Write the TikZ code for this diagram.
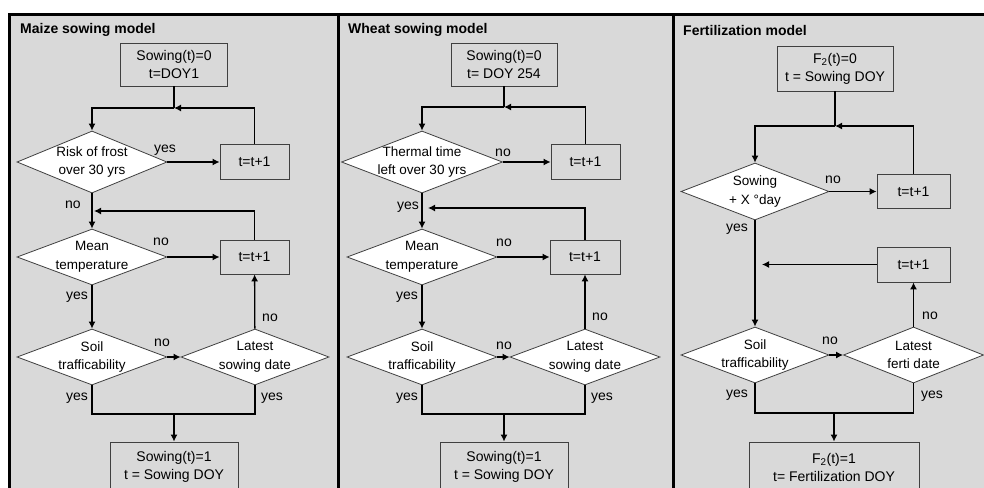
\documentclass[tikz,border=0pt]{standalone}
\usepackage{fontspec}
\setmainfont{Liberation Sans}
\usetikzlibrary{arrows.meta,shapes.geometric}
\definecolor{panelgray}{RGB}{217,217,217}
\tikzset{ %all sizes in pixels of the original
  >={Latex[length=7pt,width=7pt]},
  {frame line/.style} ={line width=3pt,black},
  {flow/.style} ={line width=1.3pt,black},
  {proc/.style} ={rectangle,draw=black!75,line width=0.8pt,inner sep=0,
                  align=center,font=\fontsize{14}{18}\selectfont},
  {decision/.style} ={diamond,aspect=2.6,draw=black!75,fill=white,
                  line width=0.8pt,inner sep=-14pt,align=center,
                  font=\fontsize{13.5}{18.5}\selectfont},
  {answer/.style} ={anchor=base,inner sep=0,font=\fontsize{14}{16}\selectfont},
  {heading/.style} ={anchor=west,inner sep=0,font=\bfseries\fontsize{14}{16}\selectfont},
 }

\begin{document}
\begin{tikzpicture}[x=1pt,y=-1pt]
\useasboundingbox (0,0) rectangle (984,487);
\clip (0,0) rectangle (984,487);
\fill[white] (0,0) rectangle (984,487);
\fill[panelgray] (9.5,14.5) rectangle (995,495);
\draw[frame line] (9.5,495) -- (9.5,14.5) -- (995,14.5);
\draw[frame line] (338,14.5) -- (338,495);
\draw[frame line] (673,14.5) -- (673,495);

% maize
\node[heading] (h1) at (20,30) {Maize sowing model};
\node[proc,minimum width=107pt,minimum height=43pt] (s1) at (174,64.5) {Sowing(t)=0\\t=DOY1};
\coordinate (j1a) at (174,108);
\node[decision,minimum width=150pt,minimum height=62pt] (d1a) at (92,162) {Risk of frost\\over 30 yrs};
\node[proc,minimum width=69pt,minimum height=35pt] (p1a) at (254.5,162) {t=t+1};
\coordinate (j1b) at (94,211);
\node[decision,minimum width=150pt,minimum height=56pt] (d1b) at (92,257) {Mean\\temperature};
\node[proc,minimum width=69pt,minimum height=34pt] (p1b) at (254.5,257) {t=t+1};
\node[decision,minimum width=150pt,minimum height=56pt] (d1c) at (92,357) {Soil\\trafficability};
\node[decision,minimum width=148pt,minimum height=56pt] (d1d) at (255,357) {Latest\\sowing date};
\coordinate (m1) at (174,414);
\node[proc,minimum width=128pt,minimum height=50pt] (e1) at (174,467) {Sowing(t)=1\\t = Sowing DOY};

\draw[flow] (s1) -- (j1a);
\draw[flow,->] (j1a) -| (d1a);
\draw[flow,->] (p1a) |- (j1a);
\draw[flow,->] (d1a) -- (p1a);
\draw[flow,->] (d1a) -- (d1b);
\draw[flow,->] (p1b) |- (j1b);
\draw[flow,->] (d1b) -- (p1b);
\draw[flow,->] (d1b) -- (d1c);
\draw[flow,->] (d1c) -- (d1d);
\draw[flow,->] (d1d) -- (p1b);
\draw[flow] (d1c) |- (m1) -| (d1d);
\draw[flow,->] (m1) -- (e1);

\node[answer] at (165,152) {yes};
\node[answer] at (73,208) {no};
\node[answer] at (161,245) {no};
\node[answer] at (77,299) {yes};
\node[answer] at (162,346) {no};
\node[answer] at (270,321) {no};
\node[answer] at (77,400) {yes};
\node[answer] at (272,400) {yes};

% wheat
\node[heading] (h2) at (348,30) {Wheat sowing model};
\node[proc,minimum width=106pt,minimum height=43pt] (s2) at (504,64.5) {Sowing(t)=0\\t= DOY 254};
\coordinate (j2a) at (504,107);
\node[decision,minimum width=161pt,minimum height=62pt] (d2a) at (422,162) {Thermal time\\left over 30 yrs};
\node[proc,minimum width=69pt,minimum height=35pt] (p2a) at (585.5,162) {t=t+1};
\coordinate (j2b) at (428,208);
\node[decision,minimum width=150pt,minimum height=56pt] (d2b) at (422,257) {Mean\\temperature};
\node[proc,minimum width=70pt,minimum height=34pt] (p2b) at (585,257) {t=t+1};
\node[decision,minimum width=150pt,minimum height=56pt] (d2c) at (422,357) {Soil\\trafficability};
\node[decision,minimum width=150pt,minimum height=56pt] (d2d) at (585,357) {Latest\\sowing date};
\coordinate (m2) at (504,414);
\node[proc,minimum width=128pt,minimum height=50pt] (e2) at (504,467) {Sowing(t)=1\\t = Sowing DOY};

\draw[flow] (s2) -- (j2a);
\draw[flow,->] (j2a) -| (d2a);
\draw[flow,->] (p2a) |- (j2a);
\draw[flow,->] (d2a) -- (p2a);
\draw[flow,->] (d2a) -- (d2b);
\draw[flow,->] (p2b) |- (j2b);
\draw[flow,->] (d2b) -- (p2b);
\draw[flow,->] (d2b) -- (d2c);
\draw[flow,->] (d2c) -- (d2d);
\draw[flow,->] (d2d) -- (p2b);
\draw[flow] (d2c) |- (m2) -| (d2d);
\draw[flow,->] (m2) -- (e2);

\node[answer] at (503,156) {no};
\node[answer] at (408,209) {yes};
\node[answer] at (504,246) {no};
\node[answer] at (407,299) {yes};
\node[answer] at (504,349) {no};
\node[answer] at (600,320) {no};
\node[answer] at (407,400) {yes};
\node[answer] at (602,400) {yes};

% fertilization
\node[heading] (h3) at (683,30) {Fertilization model};
\node[proc,minimum width=116pt,minimum height=45pt] (s3) at (835,68.5) {F\textsubscript{2}(t)=0\\t = Sowing DOY};
\coordinate (j3a) at (835,126);
\node[decision,minimum width=148pt,minimum height=57pt] (d3a) at (755,191.5) {Sowing\\+ X °day};
\node[proc,minimum width=73pt,minimum height=34pt] (p3a) at (913.5,191.5) {t=t+1};
\node[proc,minimum width=73pt,minimum height=35pt] (p3b) at (913.5,264.5) {t=t+1};
\coordinate (j3b) at (762,264.5);
\node[decision,minimum width=148pt,minimum height=56pt] (d3c) at (755,355) {Soil\\trafficability};
\node[decision,minimum width=140pt,minimum height=56pt] (d3d) at (913.5,355) {Latest\\ferti date};
\coordinate (m3) at (834,413);
\node[proc,minimum width=170pt,minimum height=50pt] (e3) at (834,467) {F\textsubscript{2}(t)=1\\t= Fertilization DOY};

\draw[flow] (s3) -- (j3a);
\draw[flow,->] (j3a) -| (d3a);
\draw[flow,->] (p3a) |- (j3a);
\draw[flow,->] (d3a) -- (p3a);
\draw[flow,->] (d3a) -- (d3c);
\draw[flow,->] (p3b) -- (j3b);
\draw[flow,->] (d3c) -- (d3d);
\draw[flow,->] (d3d) -- (p3b);
\draw[flow] (d3c) |- (m3) -| (d3d);
\draw[flow,->] (m3) -- (e3);

\node[answer] at (833,183) {no};
\node[answer] at (737,231) {yes};
\node[answer] at (830,344) {no};
\node[answer] at (930,319) {no};
\node[answer] at (737,397) {yes};
\node[answer] at (932,398) {yes};
\end{tikzpicture}
\end{document}
